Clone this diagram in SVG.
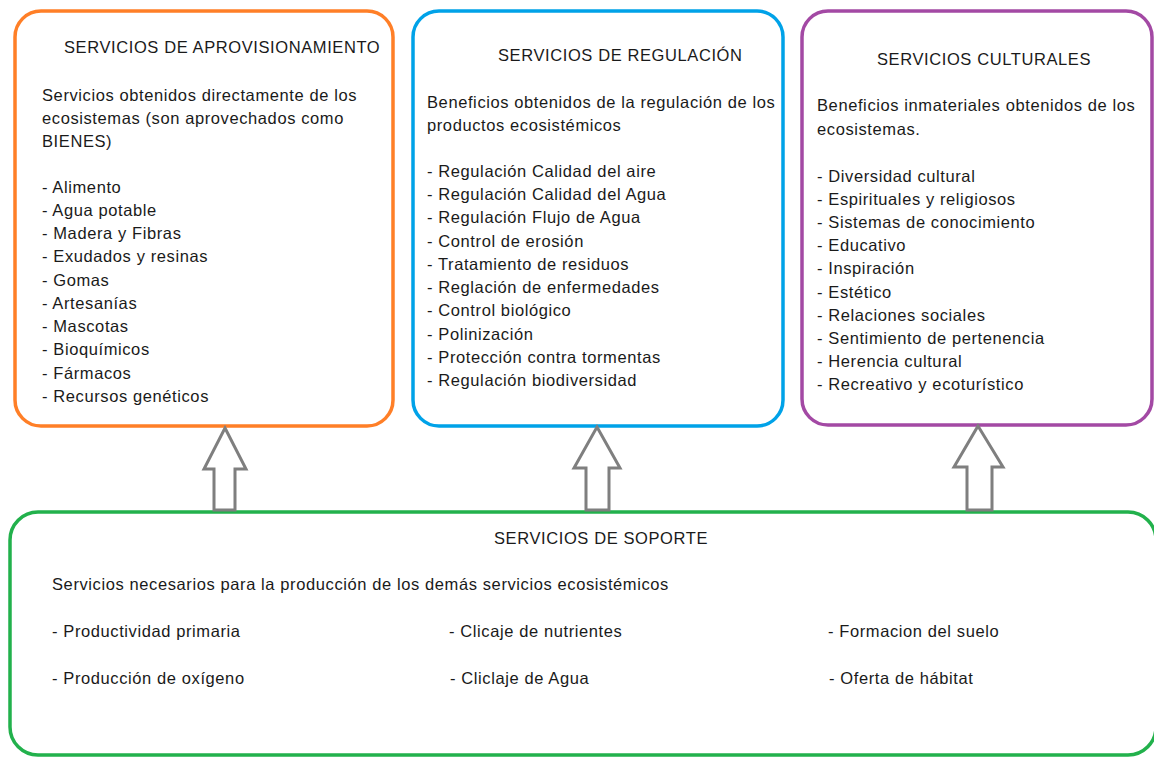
<svg xmlns="http://www.w3.org/2000/svg" width="1154" height="757" viewBox="0 0 1154 757">
<style>
text{font-family:"Liberation Sans",Arial,sans-serif;font-size:16.5px;letter-spacing:0.6px;fill:#1a1a1a}
.box{fill:#fff;stroke-width:3.5}
.arr{fill:#fff;stroke:#7f7f7f;stroke-width:3;stroke-linejoin:miter}
</style>
<rect width="1154" height="757" fill="#fff"/>
<g id="aprovisionamiento">
<rect class="box" x="15" y="11" width="378" height="415" rx="26" stroke="#FF7F27"/>
<text x="64" y="53">SERVICIOS DE APROVISIONAMIENTO</text>
<text x="42" y="101">Servicios obtenidos directamente de los</text>
<text x="42" y="124">ecosistemas (son aprovechados como</text>
<text x="42" y="147">BIENES)</text>
<text x="42" y="193">- Alimento</text>
<text x="42" y="216">- Agua potable</text>
<text x="42" y="239">- Madera y Fibras</text>
<text x="42" y="262">- Exudados y resinas</text>
<text x="42" y="286">- Gomas</text>
<text x="42" y="309">- Artesanías</text>
<text x="42" y="332">- Mascotas</text>
<text x="42" y="355">- Bioquímicos</text>
<text x="42" y="379">- Fármacos</text>
<text x="42" y="402">- Recursos genéticos</text>
</g>
<g id="regulacion">
<rect class="box" x="413" y="11" width="370" height="415" rx="26" stroke="#00A2E8"/>
<text x="498" y="61">SERVICIOS DE REGULACIÓN</text>
<text x="427" y="108">Beneficios obtenidos de la regulación de los</text>
<text x="427" y="131">productos ecosistémicos</text>
<text x="427" y="177">- Regulación Calidad del aire</text>
<text x="427" y="200">- Regulación Calidad del Agua</text>
<text x="427" y="223">- Regulación Flujo de Agua</text>
<text x="427" y="247">- Control de erosión</text>
<text x="427" y="270">- Tratamiento de residuos</text>
<text x="427" y="293">- Reglación de enfermedades</text>
<text x="427" y="316">- Control biológico</text>
<text x="427" y="340">- Polinización</text>
<text x="427" y="363">- Protección contra tormentas</text>
<text x="427" y="386">- Regulación biodiversidad</text>
</g>
<g id="culturales">
<rect class="box" x="802" y="11" width="350" height="414" rx="26" stroke="#A349A4"/>
<text x="877" y="65">SERVICIOS CULTURALES</text>
<text x="817" y="111">Beneficios inmateriales obtenidos de los</text>
<text x="817" y="135">ecosistemas.</text>
<text x="817" y="182">- Diversidad cultural</text>
<text x="817" y="205">- Espirituales y religiosos</text>
<text x="817" y="228">- Sistemas de conocimiento</text>
<text x="817" y="251">- Educativo</text>
<text x="817" y="274">- Inspiración</text>
<text x="817" y="298">- Estético</text>
<text x="817" y="321">- Relaciones sociales</text>
<text x="817" y="344">- Sentimiento de pertenencia</text>
<text x="817" y="367">- Herencia cultural</text>
<text x="817" y="390">- Recreativo y ecoturístico</text>
</g>
<g id="soporte">
<rect class="box" x="10" y="512" width="1146" height="243" rx="28" stroke="#22B14C" stroke-width="5"/>
<text x="494" y="544">SERVICIOS DE SOPORTE</text>
<text x="52" y="590">Servicios necesarios para la producción de los demás servicios ecosistémicos</text>
<text x="52" y="637">- Productividad primaria</text>
<text x="52" y="684">- Producción de oxígeno</text>
<text x="449" y="637">- Clicaje de nutrientes</text>
<text x="450" y="684">- Cliclaje de Agua</text>
<text x="828" y="637">- Formacion del suelo</text>
<text x="829" y="684">- Oferta de hábitat</text>
</g>
<g id="connectors">
<polygon class="arr" points="225,428 246,469 235,469 235,510 214,510 214,469 204,469"/>
<polygon class="arr" points="597,427 620,468 609,468 609,510 586,510 586,468 574,468"/>
<polygon class="arr" points="978,426 1003,467 992,467 992,510 967,510 967,467 954,467"/>
</g>
</svg>
